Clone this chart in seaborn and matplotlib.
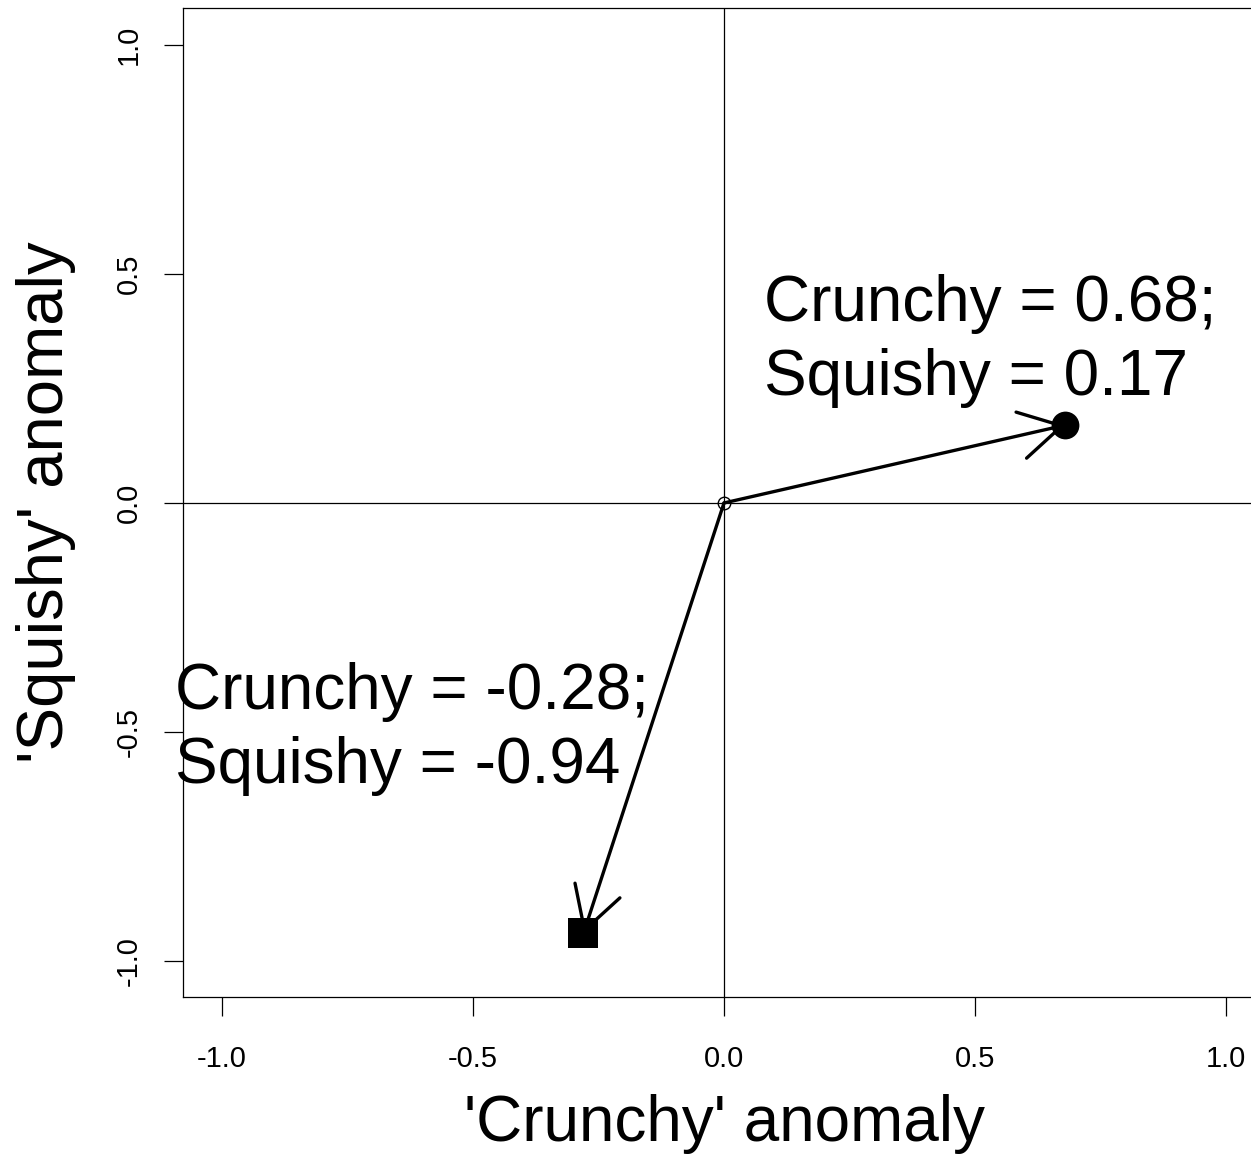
import matplotlib
matplotlib.use("Agg")
import matplotlib.pyplot as plt
import seaborn as sns
import pandas as pd

# Anomaly vectors: (crunchy, squishy) for each sample
crunchy = [0.68, -0.28]
squishy = [0.17, -0.94]
markers = ["o", "s"]
marker_sizes = [20, 22]

x_ticks = [-1.0, -0.5, 0.0, 0.5, 1.0]
y_ticks = [-1.0, -0.5, 0.0, 0.5, 1.0]
x_label = "'Crunchy' anomaly"
y_label = "'Squishy' anomaly"

sns.set_theme(style="white")
plt.rcParams["font.family"] = ["Liberation Sans", "DejaVu Sans"]

fig = plt.figure(figsize=(12.51, 11.56), dpi=100)
ax = fig.add_axes([183 / 1251, 159 / 1156, 1083 / 1251, 989 / 1156])
ax.set_xlim(-1.078, 1.08)
ax.set_ylim(-1.079, 1.081)

# reference cross through the origin
ax.axhline(0, color="black", lw=0.9, zorder=1)
ax.axvline(0, color="black", lw=0.9, zorder=1)

df = pd.DataFrame({"crunchy": crunchy, "squishy": squishy})

# arrows from the origin to each anomaly
for cx, sy in zip(crunchy, squishy):
    ax.annotate("", xy=(cx, sy), xytext=(0, 0),
                arrowprops=dict(arrowstyle="->,head_length=30,head_width=17",
                                mutation_scale=1, lw=2.4, color="black",
                                shrinkA=0, shrinkB=0),
                zorder=3)

# origin marker
ax.plot([0], [0], marker="o", ms=9, mfc="none", mec="black", mew=1.0,
        zorder=4)

for i, (m, s) in enumerate(zip(markers, marker_sizes)):
    sns.scatterplot(data=df.iloc[[i]], x="crunchy", y="squishy", marker=m,
                    s=s ** 2, color="black", edgecolor="black", linewidth=0,
                    ax=ax, zorder=5, legend=False)

# value labels
label_pos = [(0.08, 0.235), (-1.094, -0.612)]
for (cx, sy), (tx, ty) in zip(zip(crunchy, squishy), label_pos):
    ax.text(tx, ty, f"Crunchy = {cx:.2f};\nSquishy = {sy:.2f}",
            fontsize=46, ha="left", va="baseline", linespacing=1.3,
            color="black", zorder=6)

ax.set_xticks(x_ticks)
ax.set_yticks(y_ticks)
ax.set_xticklabels([f"{v:.1f}" for v in x_ticks])
ax.set_yticklabels([f"{v:.1f}" for v in y_ticks], rotation=90, va="center")
ax.tick_params(axis="both", direction="out", length=13.7, width=0.9,
               color="black", labelsize=21, labelcolor="black",
               bottom=True, left=True)
ax.tick_params(axis="x", pad=21)
ax.tick_params(axis="y", pad=15)

ax.set_xlabel(x_label, fontsize=46, color="black", labelpad=15)
ax.set_ylabel(y_label, fontsize=47, color="black", labelpad=28)

for sp in ax.spines.values():
    sp.set_color("black")
    sp.set_linewidth(0.9)
    sp.set_visible(True)

fig.savefig("out.png", dpi=100, facecolor="white")
